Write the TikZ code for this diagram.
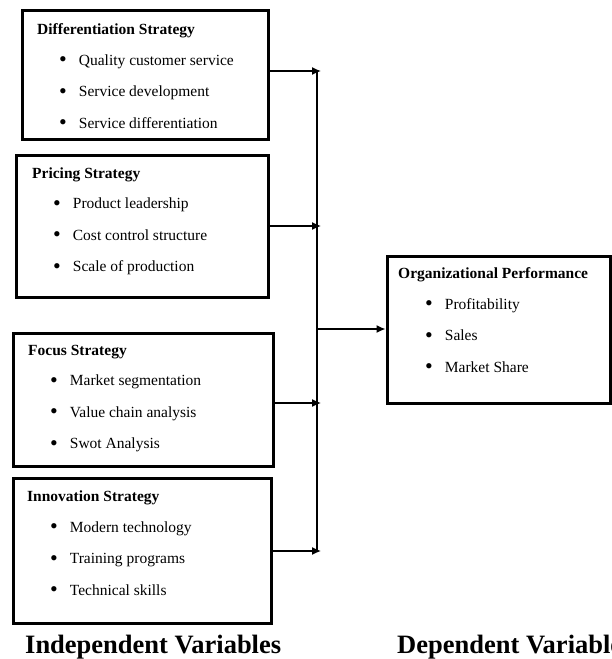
\documentclass[tikz,border=0pt]{standalone}
\usepackage{fontspec}
\setmainfont{Liberation Serif}
\usetikzlibrary{positioning, arrows.meta}
\newcommand{\itemdot}{\raisebox{-1.6pt}{\fontsize{22}{22}\selectfont\textbullet}\hspace{12pt}}
\tikzset{
  box/.style={draw, line width=3pt, inner sep=0pt}, % the strategy boxes
  heading/.style={anchor=base west, inner sep=0pt, font=\fontsize{15.5}{18}\selectfont\bfseries},
  bulletitem/.style={anchor=base west, inner sep=0pt, font=\fontsize{15.5}{18}\selectfont},
  firstrow/.style={below=30.5pt of #1, anchor=base west}, % first row under the heading
  nextrow/.style={below=31.5pt of #1, anchor=base west}, % rows of a list
  flow/.style={-{Latex[length=9pt,width=8pt]}, line width=1.3pt, shorten >=-4pt},
  spine/.style={line width=1.7pt},
  varlabel/.style={anchor=base west, inner sep=0pt, font=\fontsize{26.5}{30}\selectfont\bfseries},
}

\begin{document}
\begin{tikzpicture}[x=1pt, y=-1pt]
		\useasboundingbox (0,0) rectangle (612,659);
		\clip (0,0) rectangle (612,659);

		% Cajas
		\node[box, minimum width=246pt, minimum height=129pt] (bd) at (145,74.5) {};
		\node[box, minimum width=252pt, minimum height=142pt] (bp) at (142,226) {};
		\node[box, minimum width=260pt, minimum height=133pt] (bf) at (143,399.5) {};
		\node[box, minimum width=258pt, minimum height=145pt] (bi) at (142,550.5) {};
		\node[box, minimum width=223pt, minimum height=147pt] (bo) at (498.5,329.5) {};

		% Differentiation
		\node[heading] (d0) at (37,34.5) {Differentiation Strategy};
		\node[bulletitem, firstrow=d0.base west, xshift=22pt] (d1) {\itemdot Quality customer service};
		\node[bulletitem, nextrow=d1.base west] (d2) {\itemdot Service development};
		\node[bulletitem, nextrow=d2.base west] (d3) {\itemdot Service differentiation};

		% Pricing
		\node[heading] (p0) at (32,178) {Pricing Strategy};
		\node[bulletitem, firstrow=p0.base west, xshift=21pt] (p1) {\itemdot Product leadership};
		\node[bulletitem, nextrow=p1.base west] (p2) {\itemdot Cost control structure};
		\node[bulletitem, nextrow=p2.base west] (p3) {\itemdot Scale of production};

		% Focus
		\node[heading] (f0) at (28,355) {Focus Strategy};
		\node[bulletitem, firstrow=f0.base west, xshift=22pt] (f1) {\itemdot Market segmentation};
		\node[bulletitem, nextrow=f1.base west] (f2) {\itemdot Value chain analysis};
		\node[bulletitem, nextrow=f2.base west] (f3) {\itemdot Swot Analysis};

		% Innovation
		\node[heading] (i0) at (27,501.5) {Innovation Strategy};
		\node[bulletitem, firstrow=i0.base west, xshift=23pt] (i1) {\itemdot Modern technology};
		\node[bulletitem, nextrow=i1.base west] (i2) {\itemdot Training programs};
		\node[bulletitem, nextrow=i2.base west] (i3) {\itemdot Technical skills};

		% Performance
		\node[heading] (o0) at (398,278.5) {Organizational Performance};
		\node[bulletitem, firstrow=o0.base west, xshift=27pt] (o1) {\itemdot Profitability};
		\node[bulletitem, nextrow=o1.base west] (o2) {\itemdot Sales};
		\node[bulletitem, nextrow=o2.base west] (o3) {\itemdot Market Share};

		% Flechas
		\coordinate (j1) at (317,71);
		\coordinate (j2) at (317,226);
		\coordinate (j5) at (317,329);
		\coordinate (j3) at (317,403);
		\coordinate (j4) at (317,551);
		\draw[spine] (j1) -- (j4);
		\draw[flow] (j1 -| bd.east) -- (j1);
		\draw[flow] (j2 -| bp.east) -- (j2);
		\draw[flow] (j3 -| bf.east) -- (j3);
		\draw[flow] (j4 -| bi.east) -- (j4);
		\draw[flow, shorten >=0pt] (j5) -- (j5 -| bo.west);

		% Leyenda
		\node[varlabel] (indep) at (25,653) {Independent Variables};
		\node[varlabel] (dep) at (397,653) {Dependent Variables};
\end{tikzpicture}
\end{document}
